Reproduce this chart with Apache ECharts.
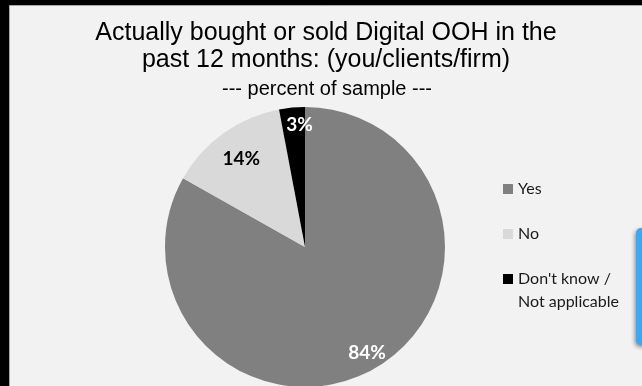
<!DOCTYPE html>
<html>
<head>
<meta charset="utf-8">
<script src="https://cdn.jsdelivr.net/npm/echarts@6/dist/echarts.min.js"></script>
<style>
  html, body { margin: 0; padding: 0; background: #000; }
  #chart { width: 642px; height: 386px; }
</style>
</head>
<body>
<div id="chart"></div>
<script>
// Survey answers and their shares (percent of sample)
const categories = ['Yes', 'No', "Don't know / Not applicable"];
const shares = [84, 14, 3];

// Heading text
const titleLines = ['Actually bought or sold Digital OOH in the', 'past 12 months: (you/clients/firm)'];
const subtitle = '--- percent of sample ---';

// Styling, kept apart from the values
const sliceColors = ['#808080', '#d9d9d9', '#000000'];
const labelColors = ['#ffffff', '#000000', '#ffffff'];
const labelNudges = [[0, 0], [8, 12], [6, 0]];

const CENTER = [305, 247];
const R = 140;
const LABEL_FONT = 'Lato, "Open Sans", sans-serif';
const TITLE_FONT = '"Liberation Sans", Arial, sans-serif';

const sliceData = categories.map((name, i) => ({
  name, value: shares[i], itemStyle: { color: sliceColors[i] }
}));
const labelData = categories.map((name, i) => ({
  name, value: shares[i], label: { color: labelColors[i] }
}));

const chart = echarts.init(document.getElementById('chart'), null, { renderer: 'canvas' });

chart.setOption({
  animation: false,
  backgroundColor: '#000',
  graphic: [
    {
      type: 'rect', z: 0, silent: true,
      shape: { x: 9.5, y: 5.5, width: 640, height: 390 },
      style: { fill: '#f2f2f2', stroke: '#a6a6a6', lineWidth: 1 }
    },
    {
      type: 'text', z: 1, silent: true,
      style: {
        text: titleLines.join('\n'), x: 326, y: 20, align: 'center', verticalAlign: 'top',
        fontFamily: TITLE_FONT, fontSize: 25, lineHeight: 27, fill: '#000'
      }
    },
    {
      type: 'text', z: 1, silent: true,
      style: {
        text: subtitle, x: 327, y: 76, align: 'center', verticalAlign: 'top',
        fontFamily: TITLE_FONT, fontSize: 20, lineHeight: 27, fill: '#000'
      }
    },
    {
      type: 'rect', z: 1, silent: true,
      shape: { x: 636, y: 228, width: 20, height: 117, r: 5 },
      style: {
        fill: '#3ca8f4', shadowBlur: 4, shadowColor: 'rgba(0,0,0,0.45)',
        shadowOffsetX: -1, shadowOffsetY: 2
      }
    }
  ],
  legend: {
    orient: 'vertical',
    left: 503, top: 166, padding: 0, itemGap: -1,
    itemWidth: 10, itemHeight: 10, icon: 'rect',
    selectedMode: false,
    data: categories,
    formatter: name => {
      const parts = name.split(' / ');
      return parts.length > 1 ? '{l1|' + parts[0] + ' /}\n{l2|' + parts[1] + '}' : name;
    },
    textStyle: {
      fontFamily: LABEL_FONT, fontSize: 16, color: '#1a1a1a', lineHeight: 46,
      rich: {
        l1: { fontFamily: LABEL_FONT, fontSize: 16, color: '#1a1a1a', lineHeight: 46 },
        l2: { fontFamily: LABEL_FONT, fontSize: 16, color: '#1a1a1a', lineHeight: 0 }
      }
    }
  },
  series: [
    {
      type: 'pie',
      center: CENTER, radius: [0, R],
      startAngle: 90, clockwise: true,
      silent: true,
      emphasis: { disabled: true },
      itemStyle: { borderWidth: 0 },
      label: { show: false },
      labelLine: { show: false },
      data: sliceData
    },
    {
      // transparent ring used only to place the percentage labels near the rim
      type: 'pie',
      center: CENTER, radius: [100, R],
      startAngle: 90, clockwise: true,
      silent: true, legendHoverLink: false,
      emphasis: { disabled: true },
      itemStyle: { color: 'rgba(0,0,0,0)', borderWidth: 0 },
      label: {
        show: true, position: 'inside', formatter: '{c}%',
        fontFamily: LABEL_FONT, fontWeight: 'bold', fontSize: 19,
        textBorderWidth: 0
      },
      labelLine: { show: false },
      labelLayout: p => ({ dx: labelNudges[p.dataIndex][0], dy: labelNudges[p.dataIndex][1] }),
      data: labelData
    }
  ]
});
</script>
</body>
</html>
